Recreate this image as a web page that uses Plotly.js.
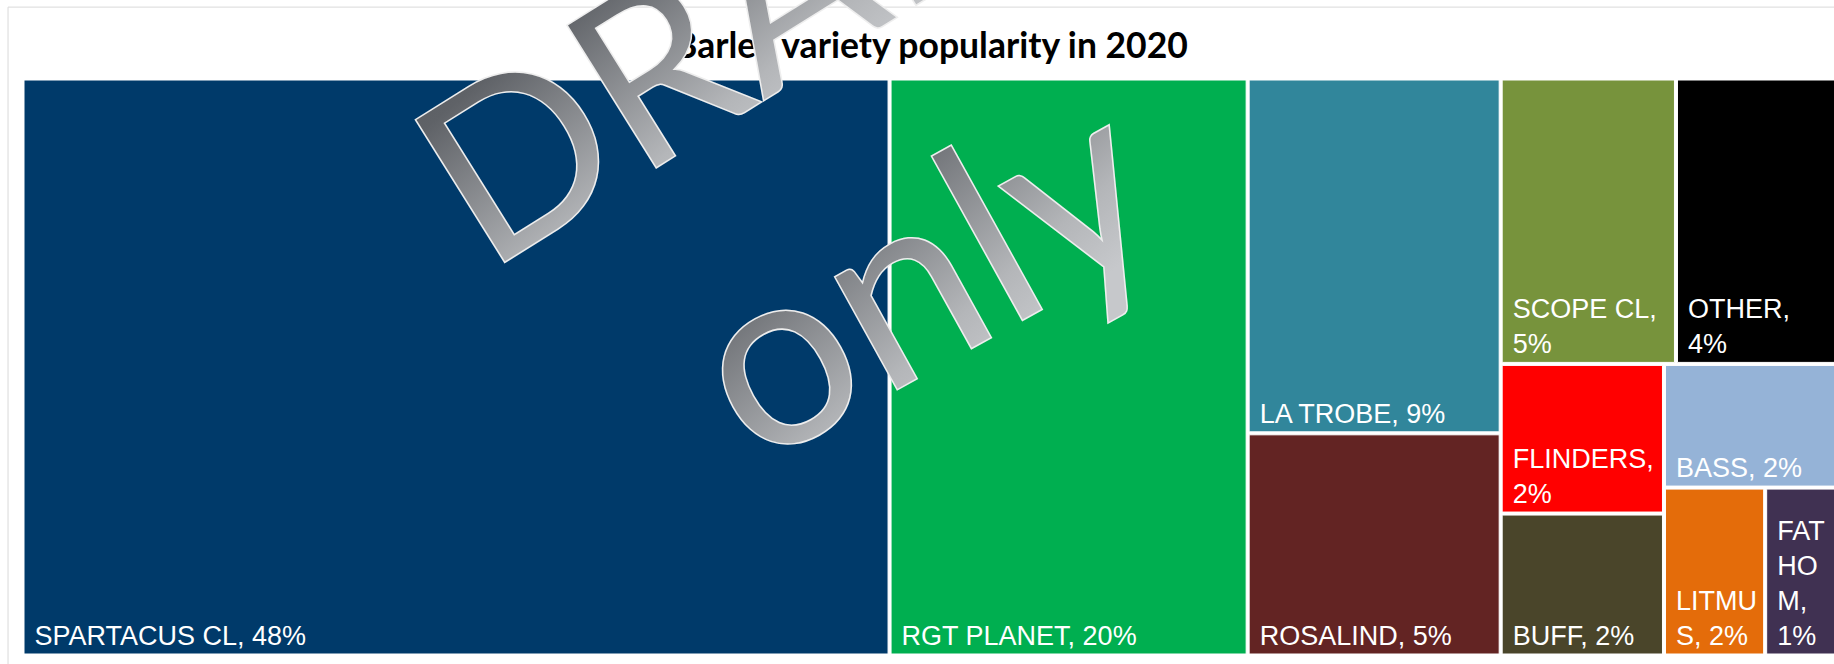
<!DOCTYPE html>
<html>
<head>
<meta charset="utf-8">
<script src="https://cdn.plot.ly/plotly-3.0.1.min.js"></script>
<style>
html,body{margin:0;padding:0;overflow:hidden;background:#ffffff;}
#chart{width:1840px;height:664px;}
</style>
</head>
<body>
<div id="chart"></div>
<script>
// ---- data ----
const varieties = ['SPARTACUS CL','RGT PLANET','LA TROBE','ROSALIND','SCOPE CL','OTHER','FLINDERS','BUFF','BASS','LITMUS','FATHOM'];
const shares = [47.7, 19.7, 8.56, 5.36, 4.77, 4.45, 2.33, 2.21, 2.07, 1.62, 1.19];
const tileLabels = ['SPARTACUS CL, 48%','RGT PLANET, 20%','LA TROBE, 9%','ROSALIND, 5%','SCOPE CL,<br>5%','OTHER,<br>4%','FLINDERS,<br>2%','BUFF, 2%','BASS, 2%','LITMU<br>S, 2%','FAT<br>HO<br>M,<br>1%'];
const tileColors = ['#003A6A','#00AF50','#31869B','#632423','#77933C','#000000','#FF0000','#4A452A','#95B3D7','#E46C0A','#403152'];
const chartTitle = 'Barley variety popularity in 2020';
const watermarkLines = ['DRAFT','only'];

// indent each line a little, as the source does
const displayText = tileLabels.map(s => s.split('<br>').map(l => '\u00A0' + l).join('<br>'));

const trace = {
  type: 'treemap',
  labels: varieties,
  parents: varieties.map(() => ''),
  values: shares,
  text: displayText,
  texttemplate: '%{text}',
  textposition: 'bottom left',
  textfont: {family: 'Liberation Sans, Arial, sans-serif', size: 27, color: '#ffffff'},
  marker: {
    colors: tileColors,
    line: {color: '#ffffff', width: 1},
    pad: {t: 0, l: 0, r: 0, b: 0}
  },
  tiling: {packing: 'squarify', squarifyratio: 1, pad: 3},
  pathbar: {visible: false},
  sort: true,
  hoverinfo: 'skip',
  domain: {x: [0, 1], y: [0, 1]}
};

const W = 1840, H = 664, mL = 24, mR = 2, mT = 80, mB = 10;

const layout = {
  width: W, height: H,
  margin: {l: mL, r: mR, t: mT, b: mB, pad: 0},
  paper_bgcolor: '#ffffff',
  title: {
    text: chartTitle,
    font: {family: 'Lato, sans-serif', size: 35.5, weight: 'bold', color: '#000000'},
    xref: 'container', yref: 'container',
    x: 931 / W, xanchor: 'center',
    y: 1 - 46 / H, yanchor: 'middle'
  },
  shapes: [{
    type: 'rect', xref: 'paper', yref: 'paper', layer: 'below',
    x0: -0.0088, x1: 1.05, y0: -0.2, y1: 1.127,
    line: {color: '#d9d9d9', width: 1}, fillcolor: 'rgba(0,0,0,0)'
  }],
  annotations: [
    {text: watermarkLines[0], xref: 'paper', yref: 'paper', x: 0.4055, y: 1.1455,
     xanchor: 'center', yanchor: 'middle', textangle: -32, showarrow: false,
     font: {family: 'Lato, sans-serif', size: 235, color: '#8e9195'}},
    {text: watermarkLines[1], xref: 'paper', yref: 'paper', x: 0.492, y: 0.676,
     xanchor: 'center', yanchor: 'middle', textangle: -29, showarrow: false,
     font: {family: 'Lato, sans-serif', size: 255, color: '#8e9195'}}
  ]
};

Plotly.newPlot('chart', [trace], layout, {displayModeBar: false, staticPlot: true}).then(() => {
  const svgNS = 'http://www.w3.org/2000/svg';
  const mainSvg = document.querySelector('#chart svg.main-svg');
  let defs = mainSvg.querySelector('defs');
  if (!defs) { defs = document.createElementNS(svgNS, 'defs'); mainSvg.insertBefore(defs, mainSvg.firstChild); }
  const grad = document.createElementNS(svgNS, 'linearGradient');
  grad.setAttribute('id', 'wmGrad');
  grad.setAttribute('x1', '0'); grad.setAttribute('y1', '0');
  grad.setAttribute('x2', '0.35'); grad.setAttribute('y2', '1');
  [['0', '#55585d'], ['0.25', '#5f6267'], ['0.8', '#b4b6b9'], ['1', '#c6c8cb']].forEach(([o, c]) => {
    const st = document.createElementNS(svgNS, 'stop');
    st.setAttribute('offset', o); st.setAttribute('stop-color', c);
    grad.appendChild(st);
  });
  defs.appendChild(grad);
  document.querySelectorAll('#chart .annotation-text').forEach(t => {
    t.style.fill = 'url(#wmGrad)';
    t.style.stroke = '#eeeeee';
    t.style.strokeWidth = '1.5px';
  });
});
</script>
</body>
</html>
